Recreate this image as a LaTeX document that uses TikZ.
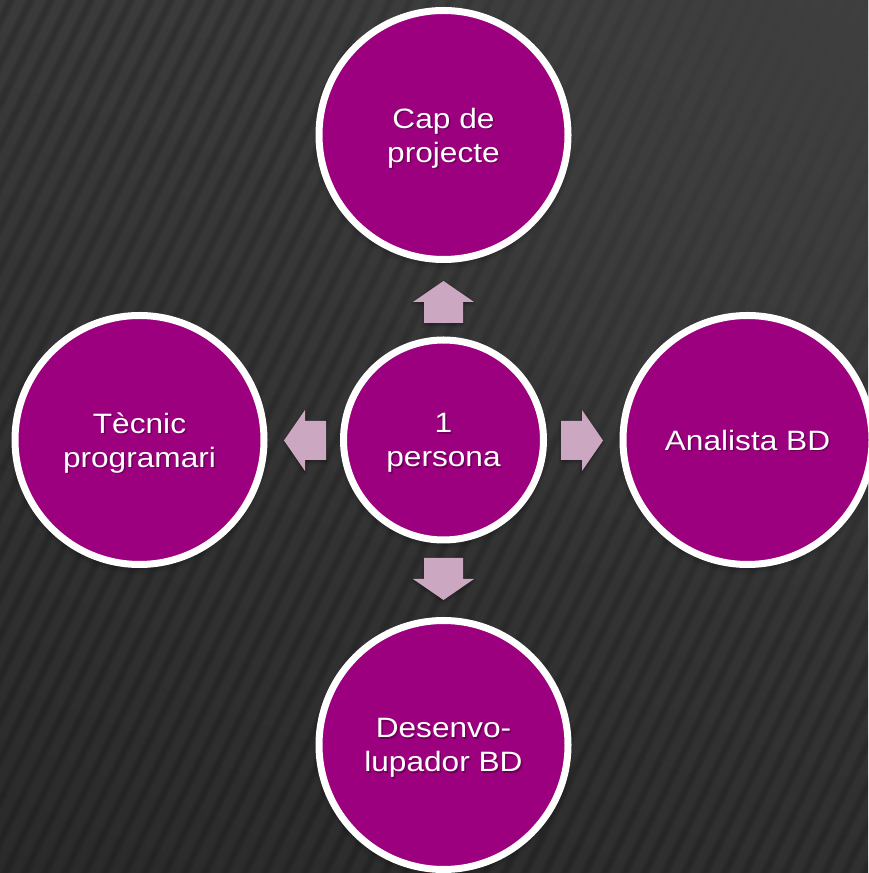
\documentclass[tikz,border=0pt]{standalone}
\usepackage{fontspec}
\setmainfont{Liberation Sans}[FakeStretch=1.13]
\usetikzlibrary{shadows.blur,fadings,shadings}
\definecolor{rolepurple}{RGB}{156,0,126}
\definecolor{arrowpink}{RGB}{204,167,193}
\definecolor{textshadow}{RGB}{70,0,56}
\definecolor{bgUL}{RGB}{58,58,58}
\definecolor{bgUR}{RGB}{63,63,63}
\definecolor{bgLL}{RGB}{42,42,42}
\definecolor{bgLR}{RGB}{48,48,48}
\tikzfading[name=fadeTR, inner color=transparent!0, outer color=transparent!100]
\tikzset{
  role/.style={circle, draw=white, line width=7pt, fill=rolepurple,
    minimum size=249pt, inner sep=0pt,
    blur shadow={shadow xshift=0pt, shadow yshift=-4pt, shadow blur radius=6pt, shadow opacity=45}},
  hub/.style={role, minimum size=200pt},
  roletext/.style={text=white, align=center, inner sep=0pt,
    font=\fontsize{28}{34}\selectfont},
  roleshadow/.style={roletext, text=textshadow, opacity=0.55},
  stripewide/.style={black, opacity=0.09, line width=9pt},
  stripenarrow/.style={black, opacity=0.08, line width=4pt},
  arrowfill/.style={fill=arrowpink,
    blur shadow={shadow xshift=0pt, shadow yshift=-2pt, shadow blur radius=3pt, shadow opacity=35}},
  blockarrow/.pic={
    \fill[arrowfill] (0pt,21pt) -- (30.5pt,0pt) -- (19.5pt,0pt) -- (19.5pt,-21pt)
      -- (-19.5pt,-21pt) -- (-19.5pt,0pt) -- (-30.5pt,0pt) -- cycle;
  }
}
\newcommand\rolelabel[3]{% name, yshift, text
  \node[roleshadow, yshift=#2-1.5pt, xshift=1.5pt] (#1s) at (#1) {#3};
  \node[roletext, yshift=#2] (#1t) at (#1) {#3};
}
\begin{document}
\begin{tikzpicture}[x=1pt,y=1pt]
  % background
  \useasboundingbox (0,0) rectangle (868,873);
  \begin{scope}
    \clip (0,0) rectangle (868,873);
    \shade[upper left=bgUL, upper right=bgUR, lower left=bgLL, lower right=bgLR]
      (0,0) rectangle (868,873);
    \foreach \i in {-25,...,45}{
      \draw[stripewide] (\i*20,-10) -- ++(64:1100);
      \draw[stripenarrow] (\i*20,-10) -- ++(64:1100);
    }
    \fill[bgUR, path fading=fadeTR] (868,873) circle (640);
  \end{scope}

  % circles
  \node[role] (top)    at (443.5,738) {};
  \node[hub]  (center) at (443.5,433) {};
  \node[role] (left)   at (139.5,433) {};
  \node[role] (right)  at (747.5,433) {};
  \node[role] (bottom) at (443.5,128) {};

  % labels
  \rolelabel{top}{-3pt}{Cap de\\projecte}
  \rolelabel{center}{-3pt}{1\\persona}
  \rolelabel{left}{-3pt}{Tècnic\\programari}
  \rolelabel{right}{0pt}{Analista BD}
  \rolelabel{bottom}{-3pt}{Desenvo-\\lupador BD}

  % block arrows
  \coordinate (aTop)    at (443.5,571);
  \coordinate (aLeft)   at (305,432.5);
  \coordinate (aRight)  at (582,432.5);
  \coordinate (aBottom) at (443.5,294);
  \pic at (aTop) {blockarrow};
  \pic[rotate=90] at (aLeft) {blockarrow};
  \pic[rotate=-90] at (aRight) {blockarrow};
  \pic[rotate=180] at (aBottom) {blockarrow};
\end{tikzpicture}
\end{document}
